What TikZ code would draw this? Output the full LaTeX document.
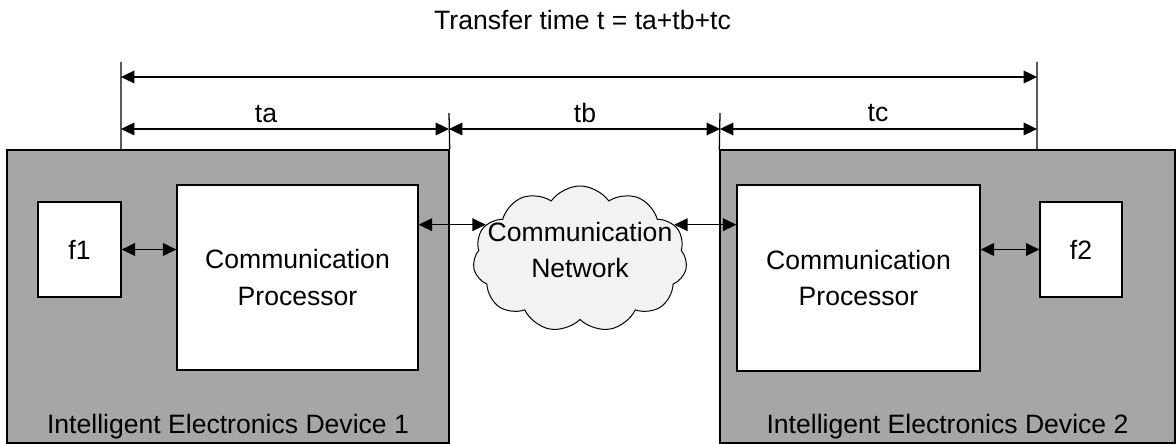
\documentclass[tikz,border=0pt]{standalone}
\usepackage{fontspec}
\setmainfont{Liberation Sans}
\usetikzlibrary{arrows.meta,shapes.symbols}
\definecolor{iedgray}{RGB}{166,166,166}
\definecolor{cloudgray}{RGB}{242,242,242}
\tikzset{
  txt/.style={font=\fontsize{18.9}{26}\selectfont, align=center},
  box/.style={draw, line width=0.9pt, fill=white, inner sep=0pt, txt},
  dim/.style={line width=0.9pt, {Triangle[length=9.5pt,width=9pt]}-{Triangle[length=9.5pt,width=9pt]}},
}
\begin{document}
\begin{tikzpicture}[x=0.025cm, y=-0.025cm]
\useasboundingbox (0,0) rectangle (1176,444);

% devices
\node[box, fill=iedgray, minimum width=11.05cm, minimum height=7.325cm] (ied1) at (228,296.5) {};
\node[box, fill=iedgray, minimum width=11.375cm, minimum height=7.325cm] (ied2) at (947.5,296.5) {};
\node[txt, anchor=south, inner sep=3pt] (ied1label) at (ied1.south) {Intelligent Electronics Device 1};
\node[txt, anchor=south, inner sep=3pt] (ied2label) at (ied2.south) {Intelligent Electronics Device 2};

\node[box, minimum width=6.025cm, minimum height=4.625cm] (cp1) at (297.5,277.5) {Communication\\Processor};
\node[box, minimum width=6.075cm, minimum height=4.65cm] (cp2) at (858.5,278) {Communication\\Processor};
\node[box, minimum width=2.075cm, minimum height=2.375cm] (f1) at (79.5,249.5) {f1};
\node[box, minimum width=2.05cm, minimum height=2.375cm] (f2) at (1081,249.5) {f2};

% network
\node[cloud, cloud puffs=11, cloud puff arc=110, cloud ignores aspect, draw, fill=cloudgray,
      line width=0.7pt, minimum width=5.35cm, minimum height=3.65cm, inner sep=0pt] (net) at (580,259) {};
\node[txt] (netlabel) at (580,250) {Communication\\Network};

\draw[dim] (f1.east) -- (f1.east -| cp1.west);
\draw[dim] (cp2.east |- f2.west) -- (f2.west);
\draw[dim] (cp1.east |- net.160) -- (net.160);
\draw[dim] (net.20) -- (net.20 -| cp2.west);

% time marks
\coordinate (L) at (121,62);
\coordinate (R) at (1037,62);
\coordinate (M1) at (449,113);
\coordinate (M2) at (720,113);
\coordinate (row1) at (0,77);
\coordinate (row2) at (0,129);

\draw[line width=0.9pt] (L) -- (L |- ied1.north)
    (R) -- (R |- ied2.north)
    (M1) -- (ied1.north east)
    (M2) -- (ied2.north west);

\draw[dim] (L |- row1) -- (R |- row1);
\draw[dim] (L |- row2) -- (M1 |- row2);
\draw[dim] (M1 |- row2) -- (M2 |- row2);
\draw[dim] (M2 |- row2) -- (R |- row2);

\node[txt] (ta) at (266,114) {ta};
\node[txt] (tb) at (585,113) {tb};
\node[txt] (tc) at (878,113) {tc};
\node[txt] (title) at (582.5,20.5) {Transfer time t = ta+tb+tc};

\end{tikzpicture}
\end{document}
